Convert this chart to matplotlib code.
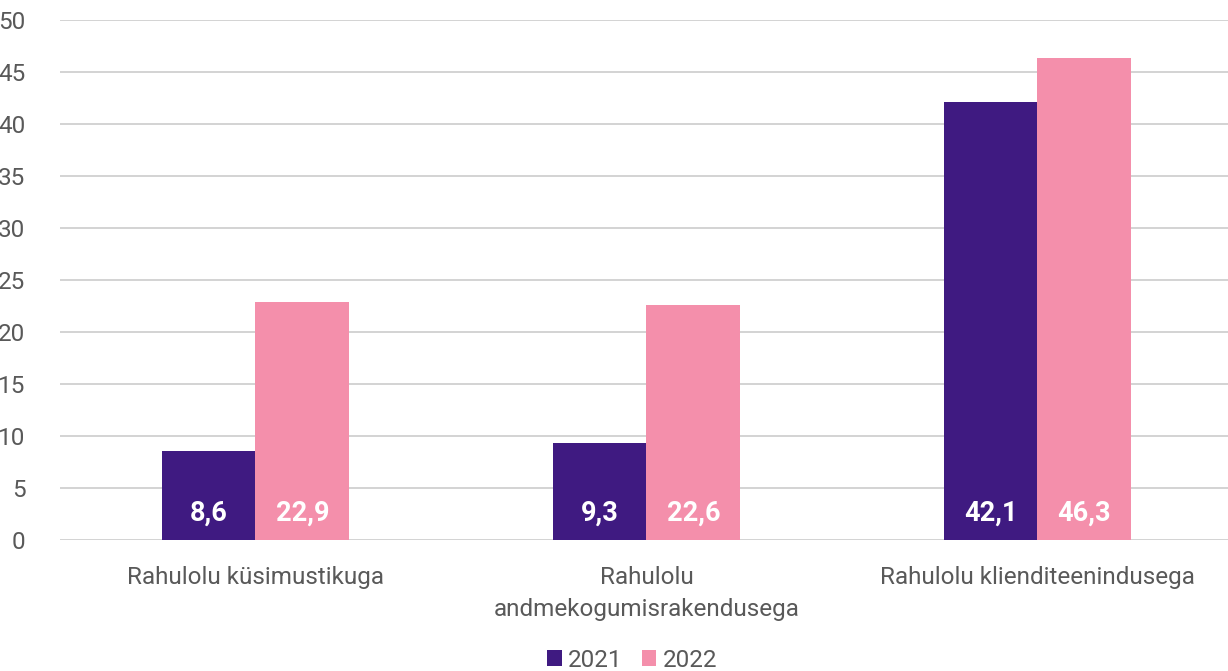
import matplotlib.pyplot as plt
import numpy as np

plt.rcParams['font.family'] = ['Roboto', 'DejaVu Sans']

categories = ['Rahulolu küsimustikuga', 'Rahulolu\nandmekogumisrakendusega', 'Rahulolu klienditeenindusega']
years = ['2021', '2022']
vals_2021 = [8.6, 9.3, 42.1]
vals_2022 = [22.9, 22.6, 46.3]
colors = ['#3F1A81', '#F48FAB']
yticks = [0, 5, 10, 15, 20, 25, 30, 35, 40, 45, 50]

fig = plt.figure(figsize=(12.28, 6.71), dpi=100)
# axes runs a few pixels past the right edge, as in the original
ax = fig.add_axes([60/1228, 131/671, 1173/1228, 520/671])

x = np.arange(len(categories))
w = 0.24
series = [vals_2021, vals_2022]
for i, (vals, c, lab) in enumerate(zip(series, colors, years)):
    bars = ax.bar(x + (i - 0.5) * w, vals, w, color=c, label=lab, zorder=3)
    for b, v in zip(bars, vals):
        ax.text(b.get_x() + b.get_width()/2, 2.6, ('%.1f' % v).replace('.', ','),
                ha='center', va='center', color='white', fontsize=19.5,
                fontweight='bold', zorder=4)

ax.set_xlim(-0.5, 2.5)
ax.set_ylim(0, 50)
ax.set_yticks(yticks)
ax.yaxis.grid(True, color='#d0d0d0', linewidth=1.3, zorder=0)
ax.set_xticks(x)
ax.set_xticklabels(categories, fontsize=17.5, color='#595959', linespacing=1.5)
ax.tick_params(axis='y', labelsize=17.5, labelcolor='#595959', length=0, pad=25)
ax.tick_params(axis='x', length=0, pad=19)
for s in ax.spines.values():
    s.set_visible(False)

ax.legend(loc='center', bbox_to_anchor=((632-60)/1173, -0.231), ncol=2, frameon=False,
          fontsize=17.5, labelcolor='#595959', handlelength=0.6, handleheight=0.6,
          handletextpad=0.25, columnspacing=0.8)

plt.savefig('out.png', dpi=100)
